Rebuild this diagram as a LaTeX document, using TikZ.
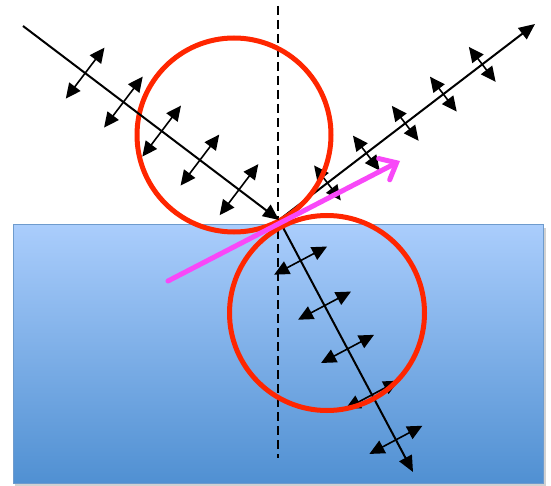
\documentclass[tikz,border=0pt]{standalone}
\usetikzlibrary{arrows.meta,calc}
\definecolor{ringred}{RGB}{255,38,0}
\definecolor{mag}{RGB}{248,72,248}
\definecolor{watertop}{RGB}{170,205,252}
\definecolor{waterbot}{RGB}{80,144,210}
\definecolor{waterline}{RGB}{110,155,205}
\begin{document}
\begin{tikzpicture}[x=1pt,y=-1pt,
  ray/.style={line width=2pt,-{Triangle[length=16pt,width=14pt]}},
  pol/.style={line width=1.6pt,{Triangle[length=15pt,width=14pt]}-{Triangle[length=15pt,width=14pt]}},
  ring/.style={draw=ringred,line width=5pt},
  normal/.style={line width=2pt,dash pattern=on 9pt off 5pt}]
\useasboundingbox (0,0) rectangle (551,486);
% water block
\fill[black!18] (15,228) rectangle (546,486);
\shade[top color=watertop,bottom color=waterbot] (13,225) rectangle (543,483);
\draw[waterline,line width=1pt] (13,225) rectangle (543,483);
% normal
\coordinate (N1) at (278,6);
\coordinate (N2) at (278,458);
\draw[normal] (N1) -- (N2);
% rays
\coordinate (I) at (23,26);
\coordinate (O) at (279,220);
\coordinate (R) at (535,24);
\coordinate (T) at (413,472);
\draw[ray] (O) -- (R);
\draw[ray] (O) -- (T);
\foreach \t in {61,110,159,207,256}{
  \coordinate (c) at ($(O)!\t pt!(R)$);
  \draw[pol] ($(c)!22pt!90:(R)$) -- ($(c)!22pt!-90:(R)$);
}
\foreach \t in {46,97,146,198,249}{
  \coordinate (c) at ($(O)!\t pt!(T)$);
  \draw[pol] ($(c)!30pt!90:(T)$) -- ($(c)!30pt!-90:(T)$);
}
% circles
\draw[ring] (234,135) circle[radius=97pt];
\draw[ring] (327,313) circle[radius=97.5pt];
% incident ray
\draw[ray] (I) -- (O);
\foreach \t in {78,126,174,222,271}{
  \coordinate (c) at ($(I)!\t pt!(O)$);
  \draw[pol] ($(c)!32pt!90:(O)$) -- ($(c)!32pt!-90:(O)$);
}
% magenta arrow
\coordinate (M1) at (168,281);
\coordinate (M2) at (400,161);
\draw[mag,line width=5pt,line cap=round,-{Straight Barb[length=14pt,width=24pt,line cap=round]}] (M1) -- (M2);
\end{tikzpicture}
\end{document}
